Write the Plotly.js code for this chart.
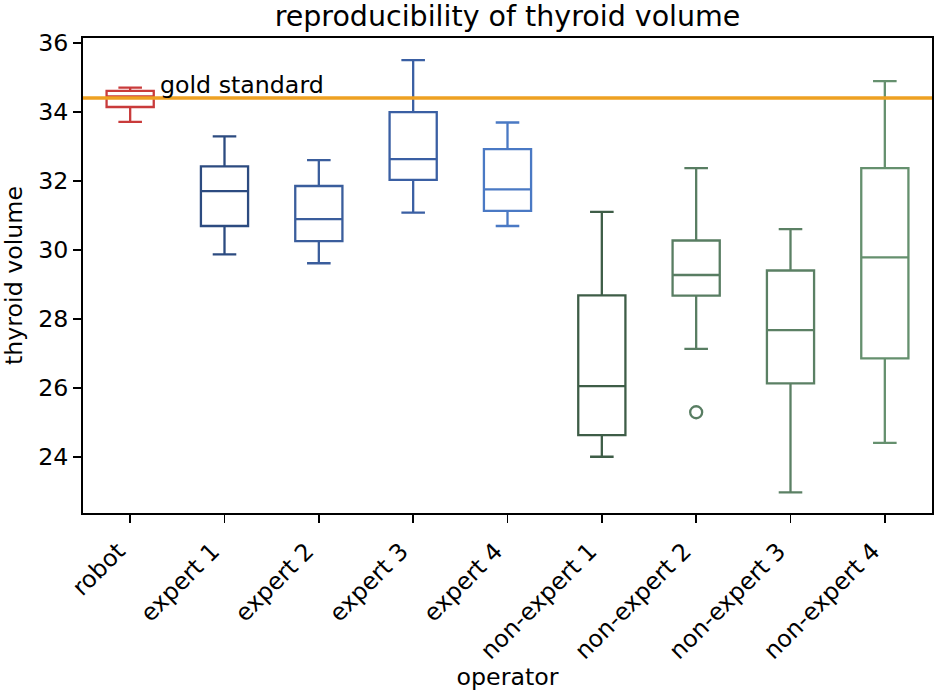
<!DOCTYPE html>
<html>
<head>
<meta charset="utf-8">
<script src="https://cdn.plot.ly/plotly-3.0.1.min.js"></script>
<style>html,body{margin:0;padding:0;background:#fff;}#chart{width:935px;height:691px;}</style>
</head>
<body>
<div id="chart"></div>
<script>
// ---- data ----
const operators = ['robot','expert 1','expert 2','expert 3','expert 4','non-expert 1','non-expert 2','non-expert 3','non-expert 4'];
const lowerWhisker = [33.72, 29.88, 29.62, 31.09, 30.70, 24.01, 27.14, 22.98, 24.41];
const q1Values     = [34.15, 30.70, 30.26, 32.04, 31.14, 24.64, 28.68, 26.14, 26.86];
const medianValues = [34.46, 31.71, 30.90, 32.64, 31.76, 26.06, 29.28, 27.68, 29.79];
const q3Values     = [34.62, 32.43, 31.86, 34.00, 32.93, 28.69, 30.28, 29.41, 32.38];
const upperWhisker = [34.71, 33.30, 32.61, 35.51, 33.70, 31.11, 32.38, 30.61, 34.90];
const outlierOperators = ['non-expert 2'];
const outlierValues = [25.30];
const goldStandard = 34.41;
const yTicks = [24, 26, 28, 30, 32, 34, 36];

// ---- styles ----
const boxColors = ['#c93b3b','#2c4b80','#3a5d9c','#3a5fa3','#4a79c4','#3e5d47','#587d62','#5b8064','#65906e'];
const outlierColor = '#587d62';
const goldColor = '#eea122';
const FONT = 'DejaVu Sans, sans-serif';
const FS = 23.7;

const traces = operators.map((op, i) => ({
  type: 'box',
  name: op,
  x: [op],
  q1: [q1Values[i]],
  median: [medianValues[i]],
  q3: [q3Values[i]],
  lowerfence: [lowerWhisker[i]],
  upperfence: [upperWhisker[i]],
  boxpoints: false,
  width: 0.5,
  whiskerwidth: 0.5,
  fillcolor: 'rgba(255,255,255,0)',
  line: {color: boxColors[i], width: 2.3},
  hoverinfo: 'y',
  showlegend: false
}));

traces.push({
  type: 'scatter',
  mode: 'markers',
  x: outlierOperators,
  y: outlierValues,
  marker: {symbol: 'circle-open', size: 12, color: outlierColor, line: {width: 2.3, color: outlierColor}},
  showlegend: false
});

const layout = {
  width: 935,
  height: 691,
  margin: {l: 83, r: 3, t: 38, b: 178},
  paper_bgcolor: '#fff',
  plot_bgcolor: '#fff',
  font: {family: FONT, size: FS, color: '#000'},
  title: {
    text: 'reproducibility of thyroid volume',
    font: {family: FONT, size: 28.5, color: '#000'},
    x: 0.5, xref: 'paper', xanchor: 'center',
    y: 1 - 16/691, yref: 'container', yanchor: 'middle'
  },
  boxmode: 'overlay',
  xaxis: {
    type: 'category',
    categoryorder: 'array',
    categoryarray: operators,
    range: [-0.5, 8.5],
    showline: true, mirror: true, linecolor: '#000', linewidth: 1.8,
    ticks: 'outside', ticklen: 8, tickwidth: 1.8, tickcolor: '#000',
    tickangle: -45,
    ticklabelshift: -12,
    ticklabelstandoff: 5,
    tickfont: {family: FONT, size: FS, color: '#000'},
    showgrid: false, zeroline: false,
    title: {text: 'operator', font: {family: FONT, size: FS, color: '#000'}, standoff: 10}
  },
  yaxis: {
    range: [22.38, 36.15],
    tickvals: yTicks,
    ticktext: yTicks.map(String),
    showline: true, mirror: true, linecolor: '#000', linewidth: 1.8,
    ticks: 'outside', ticklen: 8, tickwidth: 1.8, tickcolor: '#000',
    tickfont: {family: FONT, size: FS, color: '#000'},
    showgrid: false, zeroline: false,
    title: {text: 'thyroid volume', font: {family: FONT, size: FS, color: '#000'}, standoff: 10}
  },
  shapes: [{
    type: 'line', xref: 'paper', x0: 0, x1: 1, yref: 'y', y0: goldStandard, y1: goldStandard,
    line: {color: goldColor, width: 3.4}, layer: 'above'
  }],
  annotations: [{
    text: 'gold standard', xref: 'x', yref: 'y', x: 0.29, y: 34.78,
    xanchor: 'left', yanchor: 'middle', showarrow: false,
    font: {family: FONT, size: FS, color: '#000'}
  }]
};

Plotly.newPlot('chart', traces, layout, {displayModeBar: false, staticPlot: true});
</script>
</body>
</html>
